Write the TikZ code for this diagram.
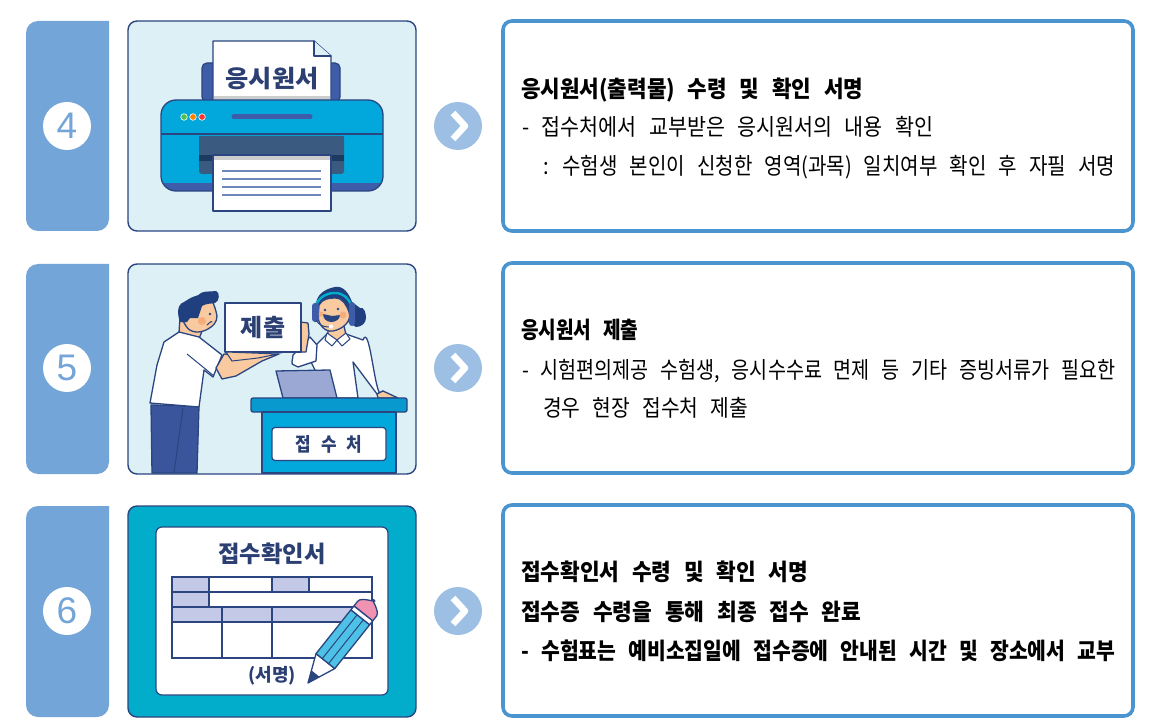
\documentclass[tikz,border=0pt]{standalone}
\usepackage{fontspec}
\usepackage{graphicx}
\setmainfont{Noto Sans CJK KR}
\newfontfamily\digitfont{Liberation Sans}
\usetikzlibrary{calc}
\definecolor{panelblue}{HTML}{74A5D8}
\definecolor{illus}{HTML}{DDF0F6}
\definecolor{navy}{HTML}{2A4580}
\definecolor{inkk}{HTML}{2B3F73}
\definecolor{boxblue}{HTML}{4A94CF}
\definecolor{cyanb}{HTML}{02A8DC}
\definecolor{royal}{HTML}{3F5CA8}
\definecolor{chev}{HTML}{9DBFE3}
\definecolor{skin}{HTML}{F9C99F}
\definecolor{cell}{HTML}{C3C9E6}
\definecolor{teal}{HTML}{02ADCB}
\definecolor{slot}{HTML}{3A5A80}
\definecolor{slotdark}{HTML}{1D3A5F}
\definecolor{eraser}{HTML}{F093B2}
\definecolor{hair}{HTML}{1F3F7F}
\definecolor{cheek}{HTML}{F4A26E}
\newcommand{\fitline}[2]{\resizebox{#1pt}{\height}{\spaceskip=.6em\relax #2}}
\tikzset{
  numpanel/.style={fill=panelblue,draw=none},
  illusbox/.style={fill=illus,draw=navy,line width=1.4pt,rounded corners=9pt},
  textbox/.style={fill=white,draw=boxblue,line width=3.6pt,rounded corners=9pt},
  numdisc/.style={circle,fill=white,minimum size=48pt,inner sep=0pt,text=panelblue,font=\digitfont\fontsize{37}{37}\selectfont},
  chevdisc/.style={circle,fill=chev,minimum size=48pt,inner sep=0pt},
  chevmark/.style={draw=white,line width=6.5pt,line join=round},
  bodytext/.style={anchor=base west,inner sep=0pt,text=black,font=\fontsize{23}{25}\selectfont},
  titletext/.style={anchor=base west,inner sep=0pt,text=black,font=\fontsize{23}{25}\selectfont\bfseries},
  inkline/.style={draw=navy,line width=1.3pt,line join=round,line cap=round},
  arttext/.style={inner sep=0pt,text=inkk,font=\bfseries},
}
\begin{document}
\begin{tikzpicture}[x=1pt,y=-1pt]
\useasboundingbox (0,0) rectangle (1167,719);
\fill[white] (0,0) rectangle (1167,719);
% number panels
\foreach \t/\b in {21/231,264/474,506/717}{
  \path[numpanel] (109,\t) [rounded corners=12pt] -- (26,\t) -- (26,\b) -- (109,\b) [sharp corners] -- cycle;
}
\node[numdisc] (n4) at (67,126) {4};
\node[numdisc] (n5) at (67,368) {5};
\node[numdisc] (n6) at (67,611) {6};
% illustration boxes
\draw[illusbox] (128,21) rectangle (416,231);
\draw[illusbox] (128,264) rectangle (416,474);
\draw[illusbox,fill=teal] (128,506) rectangle (416,717);
% text boxes
\draw[textbox] (503,21) rectangle (1133,231);
\draw[textbox] (503,263) rectangle (1133,473);
\draw[textbox] (503,505) rectangle (1133,716);
% chevrons
\foreach \n/\y in {c4/126,c5/368,c6/611}{
  \node[chevdisc] (\n) at (458,\y) {};
  \draw[chevmark] (453,\y-13) -- (465,\y) -- (453,\y+13);
}
% ---------- printer
\draw[inkline,fill=royal,rounded corners=5pt] (202,102) -- (202,63) -- (340,63) -- (340,102) -- cycle;
\draw[inkline,fill=white] (213,102) -- (213,41) -- (314,41) -- (331,56) -- (331,102) -- cycle;
\draw[inkline,fill=illus] (314,41) -- (314,56) -- (331,56);
\node[arttext,font=\fontsize{24}{24}\selectfont\bfseries] (t4) at (272,79) {\fitline{93}{응시원서}};
\fill[black!20] (214,96) rectangle (330,100);
\fill[cyanb,rounded corners=15pt] (161,100) rectangle (383,191);
\begin{scope}
\clip[rounded corners=15pt] (161,100) rectangle (383,191);
\fill[royal] (161,183) rectangle (383,191);
\end{scope}
\draw[inkline,rounded corners=15pt] (161,100) rectangle (383,191);
\draw[navy,line width=2.5pt] (161,134) -- (383,134);
\fill[slot,rounded corners=3pt] (199,136) rectangle (344,174);
\fill[slot] (199,136) rectangle (344,150);
\fill[slotdark] (199,155) rectangle (344,161);
\draw[inkline,fill=white] (213,155) rectangle (331,211);
\fill[black!20] (214,155.7) rectangle (330,160);
\foreach \y in {171,179,187,195}{\draw[royal!75!white,line width=2.2pt] (222,\y) -- (321,\y);}
\draw[inkline,line width=.6pt,fill=green!65!black!70!white,draw=white] (184,117) circle (3.3);
\draw[inkline,line width=.6pt,fill=orange,draw=white] (193,117) circle (3.3);
\draw[inkline,line width=.6pt,fill=red!80!white,draw=white] (202,117) circle (3.3);
\draw[royal,line width=5pt,line cap=round] (234,117) -- (310,117);
% ---------- scene 5: woman
\fill[hair] (316,305) to[out=90,in=190] (335,287) to[out=10,in=110] (352,302) -- (360,308) to[out=20,in=90] (366,318) to[out=-90,in=0] (356,327) -- (345,320) -- (320,310) -- cycle;
% sleeve and body
\draw[inkline,fill=white] (328,333) -- (346,334) -- (363,340) to[out=70,in=-110] (383,391) -- (377,394) -- (353,362) -- (358,398) -- (300,398) -- (315,370) -- (310,360) -- (316,345) -- cycle;
\draw[inkline,fill=white] (310,337) -- (293,355) to[out=-90,in=180] (294,365) -- (298,367) -- (316,361) -- (317,345) -- cycle;
\draw[inkline,fill=skin] (301,352) -- (300,322) -- (308,323) -- (309,334) -- (306,352) -- cycle;
\draw[inkline,fill=skin] (328,326) -- (328,335) -- (338,341) -- (346,335) -- (344,326) -- cycle;
\draw[inkline,fill=skin] (319,305) to[out=60,in=180] (335,298) to[out=0,in=110] (349,312) to[out=-70,in=10] (333,331) to[out=190,in=-90] (318,316) -- cycle;
\draw[inkline,fill=white,line width=1pt] (327,333) -- (337,340) -- (332,346) -- (325,340) -- cycle;
\draw[inkline,fill=white,line width=1pt] (337,340) -- (346,333) -- (350,339) -- (342,346) -- cycle;
\draw[teal,line width=2.4pt] (315,307) to[out=70,in=180] (335,293) to[out=0,in=110] (351,305);
\fill[royal,rounded corners=3pt] (312,303) rectangle (319,322);
\fill[royal,rounded corners=3pt] (349,302) rectangle (355,326);
\fill[navy] (323,314) to[out=0,in=180] (332,316) to[out=0,in=180] (340,315) to[out=-90,in=0] (331,322) to[out=180,in=-90] cycle;
\draw[navy,line width=1pt] (316,320) to[out=-60,in=180] (329,327);
\fill[white] (331,326.5) circle (2.2);
\fill[navy] (325,310) circle (1.3) (338,309) circle (1.3);
\fill[cheek,opacity=.7] (343,315) circle (3.5);
\fill[cheek,opacity=.7] (321,314) circle (2.5);
\draw[inkline,fill=cell!70!royal] (276,371) -- (330,370) -- (337,398) -- (283,398) -- cycle;
\draw[inkline,fill=skin] (377,394) -- (383,391) -- (398,398) -- (378,398) -- cycle;
% desk
\draw[inkline,fill=cyanb!85!navy,rounded corners=2pt] (251,398) rectangle (407,412);
\draw[inkline,fill=cyanb] (262,412) rectangle (396,473);
\node[draw=navy,line width=1.2pt,fill=white,rounded corners=3pt,minimum width=114pt,minimum height=33pt,inner sep=0pt] (d5) at (329,444) {};
\node[arttext,font=\fontsize{19}{19}\selectfont\bfseries] (t5b) at (329,444) {\fitline{67}{접 수 처}};
% man
\draw[inkline,fill=royal!92!black] (151,405) -- (199,406) -- (197,473) -- (152,473) -- cycle;
\draw[navy,line width=1pt] (183,408) -- (174,473);
\draw[inkline,fill=skin] (180,317) -- (179,333) -- (199,339) -- (205,323) -- cycle;
\draw[inkline,fill=white] (179,332) -- (199,337) -- (222,355) -- (213,377) -- (204,370) -- (199,407) -- (150,403) -- (157,365) -- (164,342) -- cycle;
\draw[inkline,fill=skin] (216,368) -- (224,354) -- (254,356) -- (279,354) -- (262,361) -- (236,376) -- (222,379) -- cycle;
\draw[navy,line width=1pt] (187,354) -- (214,376);
\draw[inkline,fill=skin] (180,316) to[out=80,in=200] (200,295) to[out=20,in=100] (217,316) to[out=-90,in=30] (208,329) to[out=-150,in=-60] (186,326) -- cycle;
\fill[hair] (180,322) to[out=110,in=200] (184,302) to[out=30,in=180] (198,296) to[out=60,in=190] (216,291) to[out=-20,in=20] (215,303) to[out=190,in=30] (202,306) -- (198,318) -- (190,318) -- (187,322) -- cycle;
\fill[cheek,opacity=.7] (202,321) circle (4);
\fill[navy] (210,314) circle (1.3);
\draw[inkline,line width=1pt] (207,325) to[out=20,in=120] (212,322);
% board
\draw[inkline,fill=white] (225,303) rectangle (301,352);
\node[arttext,font=\fontsize{24}{24}\selectfont\bfseries] (t5) at (263,327) {제출};
\draw[navy,line width=1pt,fill=skin] (226,352) -- (278,354) -- (258,358) -- (232,361) -- cycle;
% ---------- scene 6
\node[draw=navy,line width=1.2pt,fill=white,rounded corners=6pt,minimum width=232pt,minimum height=168pt,inner sep=0pt] (sheet) at (272,611) {};
\node[arttext,font=\fontsize{23}{23}\selectfont\bfseries] (t6) at (272,554) {\fitline{107}{접수확인서}};
\fill[cell] (172,577) rectangle (209,592) (272,577) rectangle (309,592) (172,592) rectangle (209,607) (172,607) rectangle (372,622);
\begin{scope}[draw=navy,line width=1.2pt]
\draw (172,577) rectangle (372,658);
\draw (172,592) -- (372,592) (172,607) -- (372,607) (172,622) -- (372,622);
\draw (209,577) -- (209,607) (272,577) -- (272,592) (309,577) -- (309,592);
\draw (222,607) -- (222,658) (272,607) -- (272,658);
\end{scope}
\node[arttext,font=\fontsize{18}{18}\selectfont\bfseries] (t6b) at (272,676) {(서명)};
\begin{scope}[shift={(308,683)},rotate=51.5,x=1pt,y=1pt]
\draw[inkline,fill=white] (0,0) -- (28,-12) -- (28,12) -- cycle;
\fill[navy] (0,0) -- (12,-5.2) -- (12,5.2) -- cycle;
\draw[inkline,fill=cyanb!70!white] (28,-12) rectangle (84,12);
\draw[navy,line width=1pt] (28,-4) -- (84,-4) (28,4) -- (84,4);
\draw[inkline,fill=white] (84,-12) rectangle (89,12);
\draw[inkline,fill=eraser] (89,-12) -- (95,-12) to[out=0,in=90] (106,0) to[out=-90,in=0] (95,12) -- (89,12) -- cycle;
\end{scope}
% ---------- text
\node[titletext] (a1) at (521,98) {\fitline{342}{응시원서(출력물) 수령 및 확인 서명}};
\node[bodytext] (a2) at (522,136) {\fitline{411}{- 접수처에서 교부받은 응시원서의 내용 확인}};
\node[bodytext] (a3) at (543,175) {\fitline{572}{: 수험생 본인이 신청한 영역(과목) 일치여부 확인 후 자필 서명}};
\node[titletext] (b1) at (521,338) {\fitline{117}{응시원서 제출}};
\node[bodytext] (b2) at (522,378) {\fitline{593}{- 시험편의제공 수험생, 응시수수료 면제 등 기타 증빙서류가 필요한}};
\node[bodytext] (b3) at (543,416) {\fitline{205}{경우 현장 접수처 제출}};
\node[titletext] (c1) at (521,580) {\fitline{287}{접수확인서 수령 및 확인 서명}};
\node[titletext] (c2) at (521,620) {\fitline{340}{접수증 수령을 통해 최종 접수 완료}};
\node[titletext] (c3) at (521,659) {\fitline{594}{- 수험표는 예비소집일에 접수증에 안내된 시간 및 장소에서 교부}};
\end{tikzpicture}
\end{document}
